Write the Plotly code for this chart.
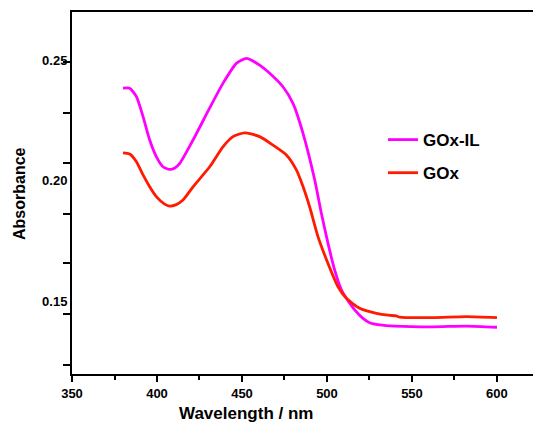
import plotly.graph_objects as go

# Wavelength (nm) and absorbance values
wl_goxil = [380.0, 383.9, 387.9, 391.8, 395.7, 399.6, 403.5, 407.5, 410.5, 413.4,
            421.2, 431.0, 438.8, 446.7, 452.6, 460.4, 466.3, 474.1, 480.0, 485.9,
            492.8, 496.7, 500.6, 504.5, 508.5, 511.4, 516.3, 521.2, 525.1, 531.0,
            540.0, 562.2, 582.0, 600.0]
abs_goxil = [0.2383, 0.2383, 0.2348, 0.2265, 0.2168, 0.2099, 0.2057, 0.2046, 0.2052, 0.2071,
             0.2168, 0.2301, 0.2403, 0.2486, 0.2507, 0.2479, 0.2445, 0.2389, 0.2320, 0.2196,
             0.2002, 0.1864, 0.1739, 0.1629, 0.1546, 0.1511, 0.1463, 0.1428, 0.1410, 0.1401,
             0.1396, 0.1393, 0.1396, 0.1391]

wl_gox = [380.0, 383.9, 387.9, 391.8, 395.7, 399.6, 404.5, 407.5, 411.0, 415.3,
          421.2, 431.0, 438.8, 444.7, 451.6, 460.4, 468.2, 476.1, 482.0, 485.9,
          489.8, 494.7, 500.6, 506.5, 511.4, 519.2, 529.1, 536.0, 540.8, 542.8,
          562.2, 582.0, 600.0]
abs_gox = [0.2115, 0.2110, 0.2078, 0.2023, 0.1974, 0.1933, 0.1902, 0.1894, 0.1899, 0.1919,
           0.1974, 0.2057, 0.2140, 0.2182, 0.2198, 0.2182, 0.2147, 0.2106, 0.2044, 0.1975,
           0.1891, 0.1767, 0.1656, 0.1559, 0.1511, 0.1470, 0.1449, 0.1441, 0.1438, 0.1433,
           0.1431, 0.1435, 0.1431]

x_ticks = [350, 400, 450, 500, 550, 600]
x_minor_ticks = [375, 425, 475, 525, 575, 625]
y_label_vals = [0.15, 0.20, 0.25]
y_label_text = ["0.15", "0.20", "0.25"]
y_tick_marks = [0.24917, 0.22813, 0.20714, 0.18622, 0.16564, 0.14460, 0.12357]

FONT = "Arial, Liberation Sans, sans-serif"

fig = go.Figure()
fig.add_trace(go.Scatter(x=wl_goxil, y=abs_goxil, mode="lines", name="GOx-IL",
                         legendgroup="a",
                         line=dict(color="#FF00FF", width=2.8, shape="spline", smoothing=0.6)))
fig.add_trace(go.Scatter(x=wl_gox, y=abs_gox, mode="lines", name="GOx",
                         legendgroup="b",
                         line=dict(color="#FF1A00", width=2.8, shape="spline", smoothing=0.6)))

fig.update_layout(
    width=533, height=422,
    margin=dict(l=72, r=0, t=12, b=48),
    paper_bgcolor="white", plot_bgcolor="white",
    font=dict(family=FONT, color="black"),
    showlegend=True,
    legend=dict(x=0.6746, y=0.696, xanchor="left", yanchor="top",
                bgcolor="rgba(0,0,0,0)", tracegroupgap=8,
                font=dict(family=FONT, size=17, weight="bold", color="black")),
    xaxis=dict(range=[350, 621.2], showline=True, linecolor="black", linewidth=2,
               mirror=True, showgrid=False, zeroline=False,
               tickmode="array", tickvals=x_ticks, ticks="outside", ticklen=6,
               tickwidth=1.5, tickcolor="black",
               tickfont=dict(family=FONT, size=13, weight="bold", color="black"),
               minor=dict(tickmode="array", tickvals=x_minor_ticks, ticks="outside",
                          ticklen=4, tickwidth=1.5, tickcolor="black", showgrid=False)),
    yaxis=dict(range=[0.11971, 0.26992], showline=True, linecolor="black", linewidth=2,
               mirror=False, showgrid=False, zeroline=False,
               tickmode="array", tickvals=y_label_vals, ticktext=y_label_text,
               ticks="", ticklen=0,
               tickfont=dict(family=FONT, size=13, weight="bold", color="black"),
               minor=dict(tickmode="array", tickvals=y_tick_marks, ticks="outside",
                          ticklen=7, tickwidth=1.5, tickcolor="black", showgrid=False)),
)

fig.add_annotation(text="Wavelength / nm", xref="paper", yref="paper",
                   x=0.3785, y=-0.11, xanchor="center", yanchor="middle",
                   showarrow=False,
                   font=dict(family=FONT, size=17, weight="bold", color="black"))
fig.add_annotation(text="Absorbance", xref="paper", yref="paper",
                   x=-0.115, y=0.5, xanchor="center", yanchor="middle",
                   textangle=-90, showarrow=False,
                   font=dict(family=FONT, size=16, weight="bold", color="black"))

fig.write_html("out.html", config={"displayModeBar": False},
               post_script="document.body.style.margin='0';document.body.style.overflow='hidden';")
